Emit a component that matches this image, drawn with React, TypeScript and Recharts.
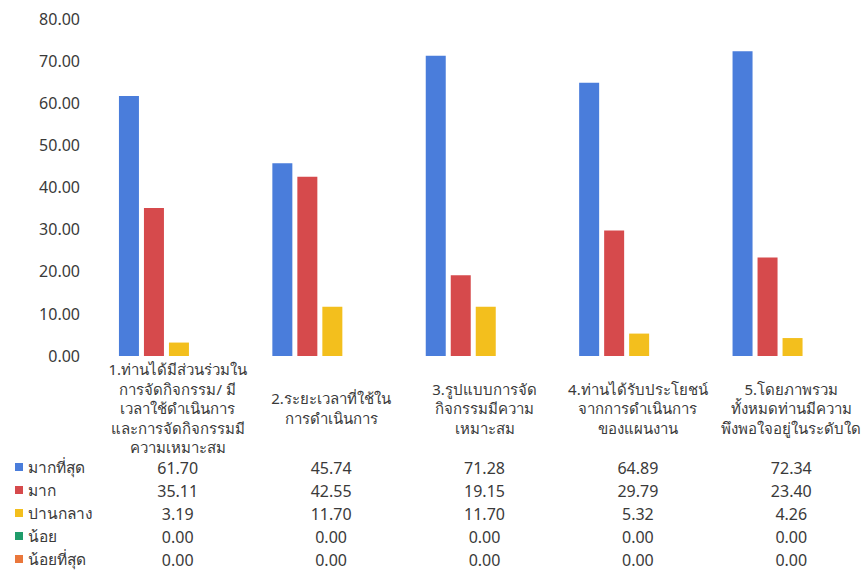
import { BarChart, Bar, XAxis, YAxis } from 'recharts'

const categoryLines = [
  ['1.ท่านได้มีส่วนร่วมใน', 'การจัดกิจกรรม/ มี', 'เวลาใช้ดำเนินการ', 'และการจัดกิจกรรมมี', 'ความเหมาะสม'],
  ['2.ระยะเวลาที่ใช้ใน', 'การดำเนินการ'],
  ['3.รูปแบบการจัด', 'กิจกรรมมีความ', 'เหมาะสม'],
  ['4.ท่านได้รับประโยชน์', 'จากการดำเนินการ', 'ของแผนงาน'],
  ['5.โดยภาพรวม', 'ทั้งหมดท่านมีความ', 'พึงพอใจอยู่ในระดับใด'],
]
const categories = categoryLines.map((l) => l.join(' '))

const seriesNames = ['มากที่สุด', 'มาก', 'ปานกลาง', 'น้อย', 'น้อยที่สุด']
const seriesColors = ['#4a7ddb', '#d64a4c', '#f3bf1d', '#1f9c6b', '#ea773b']

const mostValues = [61.7, 45.74, 71.28, 64.89, 72.34]
const muchValues = [35.11, 42.55, 19.15, 29.79, 23.4]
const moderateValues = [3.19, 11.7, 11.7, 5.32, 4.26]
const littleValues = [0, 0, 0, 0, 0]
const leastValues = [0, 0, 0, 0, 0]

const yTicks = [0, 10, 20, 30, 40, 50, 60, 70, 80]

const seriesValues = [mostValues, muchValues, moderateValues, littleValues, leastValues]

const data = categories.map((name, i) => ({
  name,
  s0: mostValues[i],
  s1: muchValues[i],
  s2: moderateValues[i],
  s3: littleValues[i],
  s4: leastValues[i],
}))

const font = '"Noto Sans", sans-serif'
const textColor = '#3a3a3a'

// category label lines + the data table column under each category
function CategoryTick(props: any) {
  const { x, y, index } = props
  const lines = categoryLines[index] || []
  const mid = (lines.length - 1) / 2
  return (
    <g>
      {lines.map((line, i) => (
        <text
          key={i}
          x={x}
          y={y + 51 + (i - mid) * 19.5 + 5}
          textAnchor="middle"
          fontSize={15}
          fill={textColor}
          fontFamily={font}
        >
          {line}
        </text>
      ))}
      {seriesValues.map((vals, r) => (
        <text
          key={'v' + r}
          x={x}
          y={y + 111 + r * 23 + 5}
          textAnchor="middle"
          fontSize={16}
          fill={textColor}
          fontFamily={font}
        >
          {vals[index].toFixed(2)}
        </text>
      ))}
    </g>
  )
}

export default function App() {
  return (
    <div
      style={{
        position: 'absolute',
        left: 0,
        top: 0,
        width: 862,
        height: 570,
        overflow: 'hidden',
        background: '#fff',
        fontFamily: font,
      }}
    >
      <BarChart
        width={868}
        height={570}
        data={data}
        margin={{ top: 19, right: 0, bottom: 14, left: 0 }}
        barCategoryGap="11.7%"
        barGap={5}
      >
        <YAxis
          width={101}
          domain={[0, 80]}
          ticks={yTicks}
          axisLine={false}
          tickLine={false}
          tickSize={0}
          tickMargin={21}
          tickFormatter={(v: number) => v.toFixed(2)}
          tick={{ fontSize: 16, fill: textColor, fontFamily: font }}
        />
        <XAxis
          dataKey="name"
          height={200}
          interval={0}
          axisLine={false}
          tickLine={false}
          tickSize={0}
          tick={<CategoryTick />}
        />
        {seriesNames.map((n, i) => (
          <Bar key={n} dataKey={'s' + i} name={n} fill={seriesColors[i]} isAnimationActive={false} />
        ))}
      </BarChart>
      {seriesNames.map((n, r) => (
        <div
          key={n}
          style={{
            position: 'absolute',
            left: 15,
            top: 467 + r * 23 - 11,
            height: 22,
            display: 'flex',
            alignItems: 'center',
            fontSize: 15.5,
            color: textColor,
          }}
        >
          <span
            style={{ display: 'inline-block', width: 8, height: 8, background: seriesColors[r], marginRight: 5 }}
          />
          {n}
        </div>
      ))}
    </div>
  )
}
